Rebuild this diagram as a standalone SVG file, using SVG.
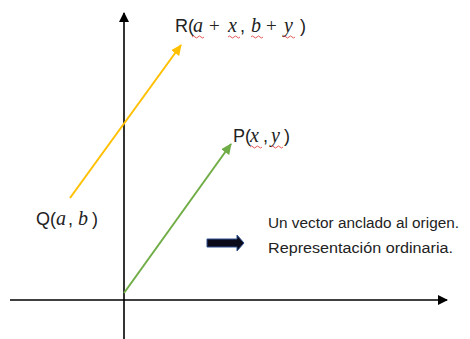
<svg xmlns="http://www.w3.org/2000/svg" width="470" height="339" viewBox="0 0 470 339">
<style>
.ax{stroke:#000;stroke-width:1.6;fill:none}
.lbl{font-family:"Liberation Sans",Arial,sans-serif;font-size:18px;fill:#222}
.m{font-family:"Liberation Serif","DejaVu Serif",serif;font-style:italic;font-size:20px}
.mo{font-family:"Liberation Serif","DejaVu Serif",serif;font-size:19px}
.note{font-family:"Liberation Sans",Arial,sans-serif;font-size:15.5px;fill:#222}
.wv{stroke:#e03030;stroke-width:0.8;fill:none}
</style>
<defs>
<marker id="ah" markerWidth="10" markerHeight="10" refX="9" refY="5" orient="auto" markerUnits="userSpaceOnUse">
<path d="M0,0 L10,5 L0,10 Z" fill="#000"/>
</marker>
<marker id="ay" markerWidth="12" markerHeight="12" refX="10" refY="6" orient="auto" markerUnits="userSpaceOnUse">
<path d="M0,1 L11,6 L0,11 Z" fill="#FFC000"/>
</marker>
<marker id="ag" markerWidth="12" markerHeight="12" refX="10" refY="6" orient="auto" markerUnits="userSpaceOnUse">
<path d="M0,1 L11,6 L0,11 Z" fill="#70AD47"/>
</marker>
</defs>
<g id="connectors">
<line class="ax" x1="124" y1="339" x2="124" y2="13" marker-end="url(#ah)"/>
<line class="ax" x1="10" y1="300" x2="447" y2="300" marker-end="url(#ah)"/>
<line x1="70" y1="198" x2="181" y2="45" stroke="#FFC000" stroke-width="2" marker-end="url(#ay)"/>
<line x1="124" y1="293" x2="231" y2="144" stroke="#70AD47" stroke-width="2" marker-end="url(#ag)"/>
</g>
<g id="R">
<text class="lbl" y="32"><tspan x="175">R(</tspan><tspan class="m" x="193">a</tspan><tspan class="mo" x="209">+</tspan><tspan class="m" x="228">x</tspan><tspan x="240">,</tspan><tspan class="m" x="251">b</tspan><tspan class="mo" x="266">+</tspan><tspan class="m" x="284">y</tspan><tspan x="300">)</tspan></text>
<path class="wv" d="M192,37 q1.5,-2 3,0 t3,0 t3,0 t3,0 M228,37 q1.5,-2 3,0 t3,0 t3,0 t3,0 M251,37 q1.5,-2 3,0 t3,0 t3,0 t3,0 M283,37 q1.5,-2 3,0 t3,0 t3,0 t3,0"/>
</g>
<g id="P">
<text class="lbl" y="142"><tspan x="233">P(</tspan><tspan class="m" x="250">x</tspan><tspan x="263">,</tspan><tspan class="m" x="271">y</tspan><tspan x="284">)</tspan></text>
<path class="wv" d="M250,147 q1.5,-2 3,0 t3,0 t3,0 t3,0 M271,147 q1.5,-2 3,0 t3,0 t3,0 t3,0"/>
</g>
<g id="Q">
<text class="lbl" y="225"><tspan x="36">Q(</tspan><tspan class="m" x="56">a</tspan><tspan x="68">,</tspan><tspan class="m" x="78">b</tspan><tspan x="92">)</tspan></text>
</g>
<g id="note">
<path d="M207,239 L237,239 L237,235 L244,243 L237,251 L237,247 L207,247 Z" fill="#0a0a1a" stroke="#2f4f8f" stroke-width="1"/>
<text class="note" x="268" y="228" textLength="191" lengthAdjust="spacingAndGlyphs">Un vector anclado al origen.</text>
<text class="note" x="268" y="253" textLength="185" lengthAdjust="spacingAndGlyphs">Representación ordinaria.</text>
</g>
</svg>
